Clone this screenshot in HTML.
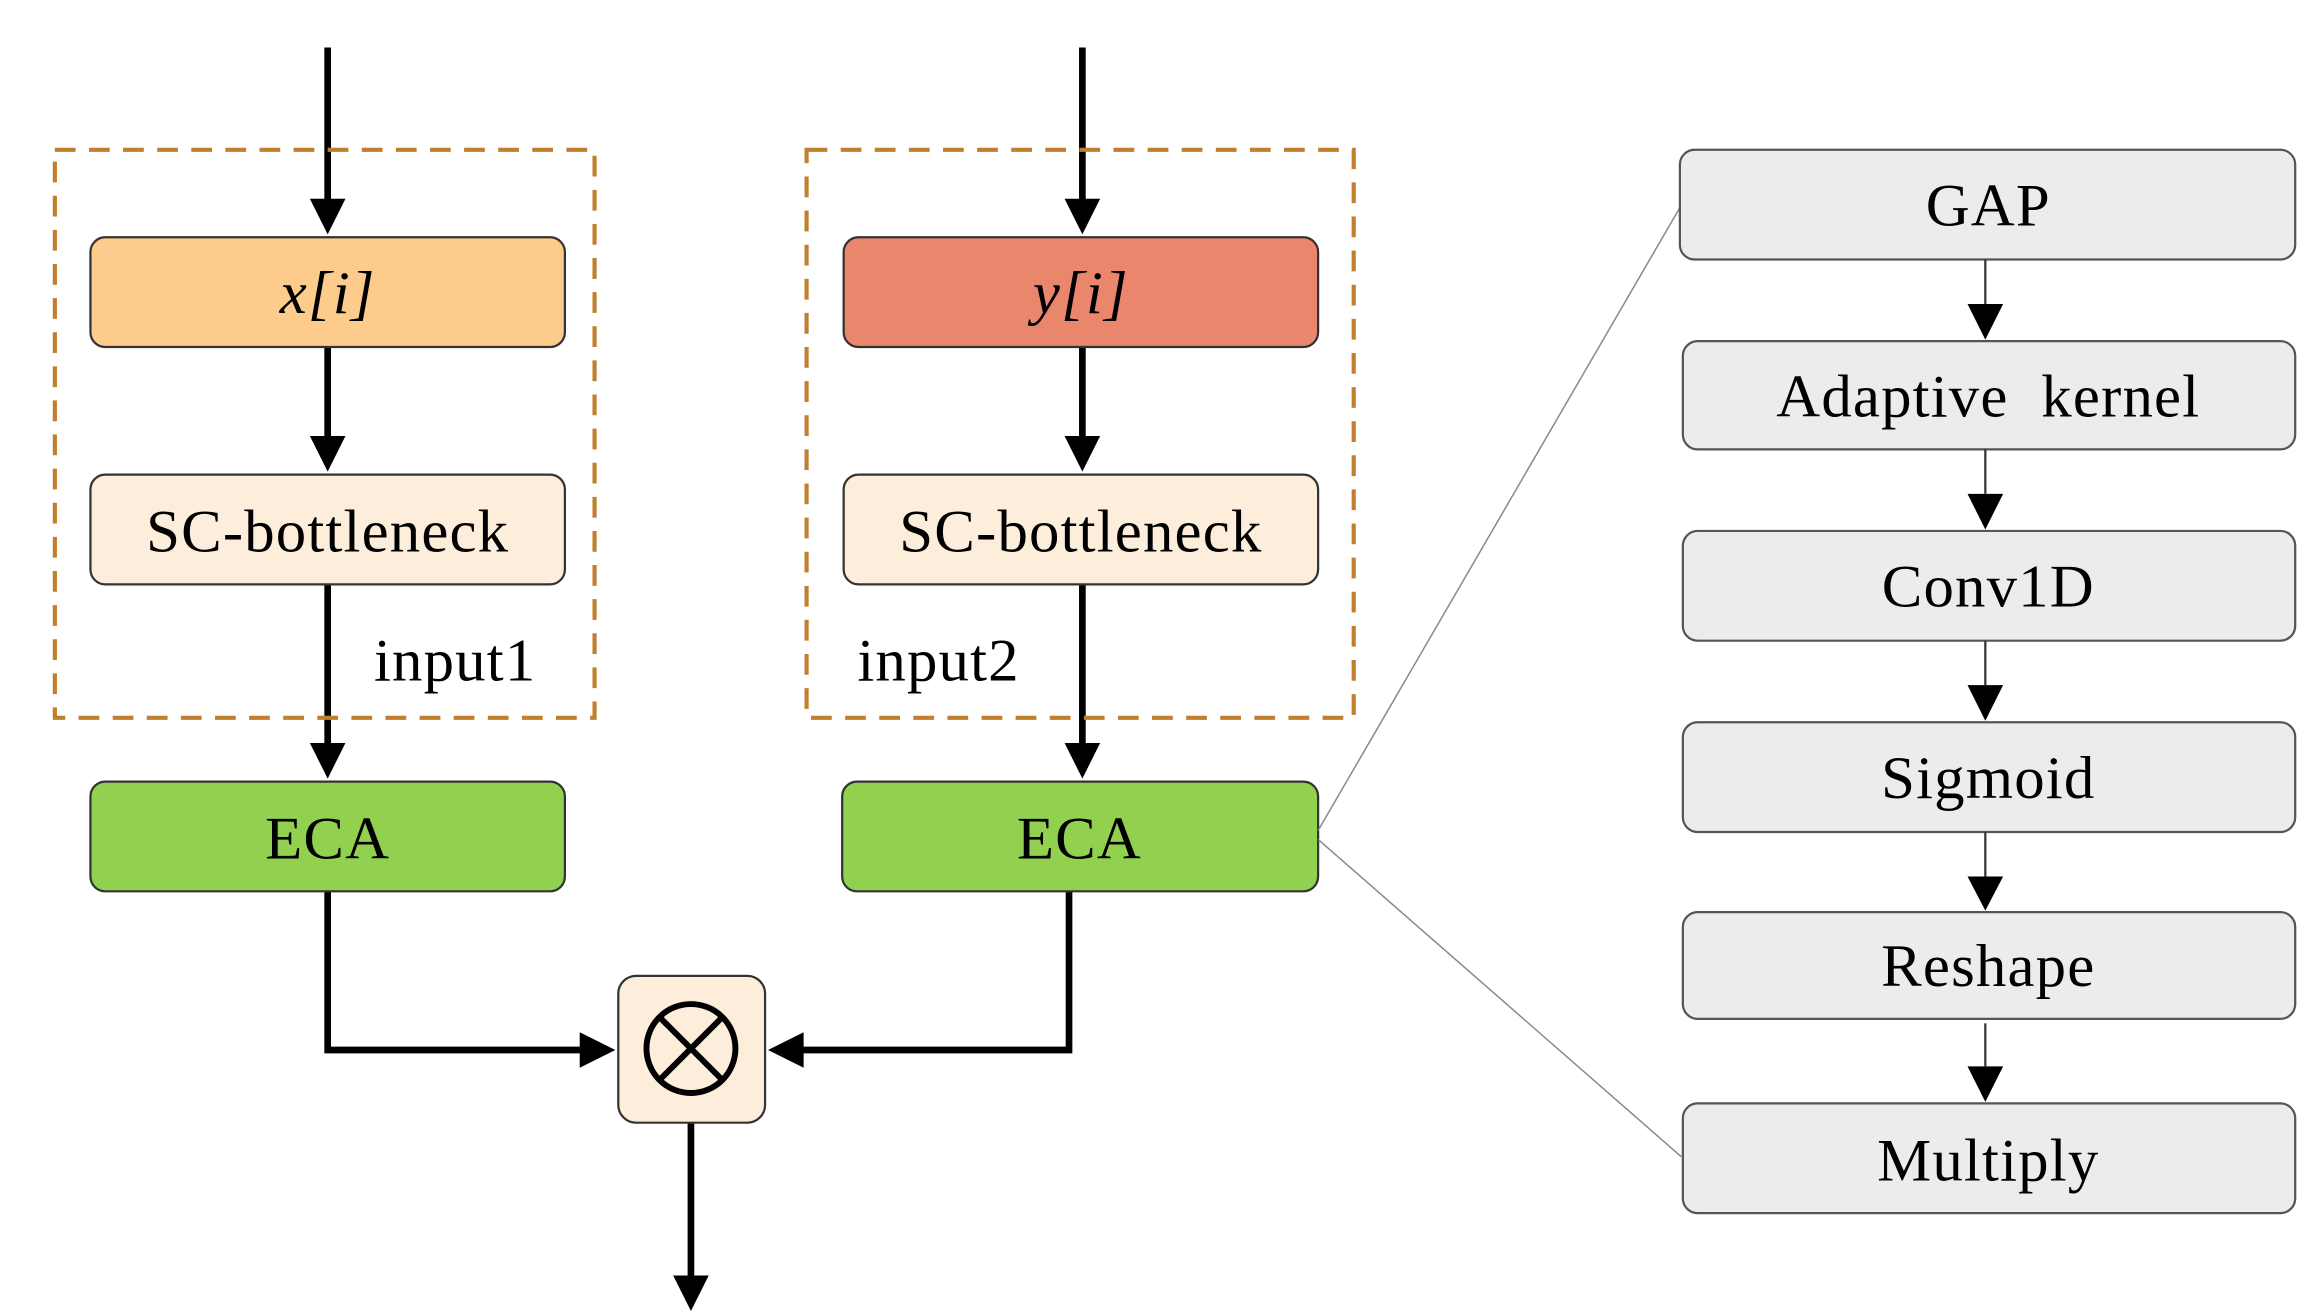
<!DOCTYPE html>
<html><head><meta charset="utf-8"><style>html,body{margin:0;padding:0;background:#fff}svg{display:block}</style></head>
<body>
<svg width="2313" height="1314" viewBox="0 0 1560 886" preserveAspectRatio="none" xmlns="http://www.w3.org/2000/svg" font-family="'Liberation Serif', serif">
<g fill="none" stroke="#000" stroke-width="4.5">
<line x1="221" y1="32" x2="221" y2="140"/><path d="M209,134 L233,134 L221,158 z" fill="#000" stroke="none"/>
<line x1="221" y1="234" x2="221" y2="300"/><path d="M209,294 L233,294 L221,318 z" fill="#000" stroke="none"/>
<line x1="221" y1="394" x2="221" y2="506"/><path d="M209,501 L233,501 L221,525 z" fill="#000" stroke="none"/>
<line x1="730" y1="32" x2="730" y2="140"/><path d="M718,134 L742,134 L730,158 z" fill="#000" stroke="none"/>
<line x1="730" y1="234" x2="730" y2="300"/><path d="M718,294 L742,294 L730,318 z" fill="#000" stroke="none"/>
<line x1="730" y1="394" x2="730" y2="506"/><path d="M718,501 L742,501 L730,525 z" fill="#000" stroke="none"/>
<polyline points="221,601 221,708 395,708"/><path d="M391,696 L415,708 L391,720 z" fill="#000" stroke="none"/>
<polyline points="721,601 721,708 540,708"/><path d="M542,696 L518,708 L542,720 z" fill="#000" stroke="none"/>
<line x1="466" y1="757" x2="466" y2="865"/><path d="M454,860 L478,860 L466,884 z" fill="#000" stroke="none"/>
</g>
<g fill="none" stroke="#c07f2d" stroke-width="2.8" stroke-dasharray="14,9">
<rect x="37" y="101" width="364" height="383"/>
<rect x="544" y="101" width="369" height="383"/>
</g>
<g stroke="#333" stroke-width="1.5">
<rect x="61" y="160" width="320" height="74" rx="10" fill="#fdcb8c"/>
<rect x="61" y="320" width="320" height="74" rx="10" fill="#fdeedc"/>
<rect x="61" y="527" width="320" height="74" rx="10" fill="#92d050"/>
<rect x="569" y="160" width="320" height="74" rx="10" fill="#ea866c"/>
<rect x="569" y="320" width="320" height="74" rx="10" fill="#fdeedc"/>
<rect x="568" y="527" width="321" height="74" rx="10" fill="#92d050"/>
<rect x="417" y="658" width="99" height="99" rx="12" fill="#fdeedc"/>
</g>
<g stroke="#000" stroke-width="4" fill="none">
<circle cx="466" cy="707" r="30"/>
<line x1="445" y1="686" x2="487" y2="728"/><line x1="487" y1="686" x2="445" y2="728"/>
</g>
<g stroke="#888" stroke-width="1">
<line x1="889" y1="560" x2="1133" y2="140"/>
<line x1="889" y1="566" x2="1134" y2="780"/>
</g>
<g stroke="#555" stroke-width="1.5" fill="#ececec">
<rect x="1133" y="101" width="415" height="74" rx="10"/>
<rect x="1135" y="230" width="413" height="73" rx="10"/>
<rect x="1135" y="358" width="413" height="74" rx="10"/>
<rect x="1135" y="487" width="413" height="74" rx="10"/>
<rect x="1135" y="615" width="413" height="72" rx="10"/>
<rect x="1135" y="744" width="413" height="74" rx="10"/>
</g>
<g stroke="#333" stroke-width="1.5">
<line x1="1339" y1="175" x2="1339" y2="205"/><line x1="1339" y1="303" x2="1339" y2="333"/><line x1="1339" y1="432" x2="1339" y2="462"/><line x1="1339" y1="561" x2="1339" y2="591"/><line x1="1339" y1="690" x2="1339" y2="719"/>
</g>
<g fill="#000">
<path d="M1327,205 L1351,205 L1339,229 z"/><path d="M1327,333 L1351,333 L1339,357 z"/><path d="M1327,462 L1351,462 L1339,486 z"/><path d="M1327,591 L1351,591 L1339,614 z"/><path d="M1327,719 L1351,719 L1339,743 z"/>
</g>
<g font-size="41" text-anchor="middle" fill="#000" letter-spacing="0.8">
<text x="221" y="211" font-style="italic">x[i]</text>
<text x="729" y="211" font-style="italic">y[i]</text>
<text x="221" y="372">SC-bottleneck</text>
<text x="729" y="372">SC-bottleneck</text>
<text x="221" y="579">ECA</text>
<text x="728" y="579">ECA</text>
<text x="1341" y="152">GAP</text>
<text x="1341" y="281">Adaptive&#160; kernel</text>
<text x="1341" y="409">Conv1D</text>
<text x="1341" y="538">Sigmoid</text>
<text x="1341" y="665">Reshape</text>
<text x="1341" y="796">Multiply</text>
<text x="307" y="459">input1</text>
<text x="633" y="459">input2</text>
</g>
</svg>
</body></html>
